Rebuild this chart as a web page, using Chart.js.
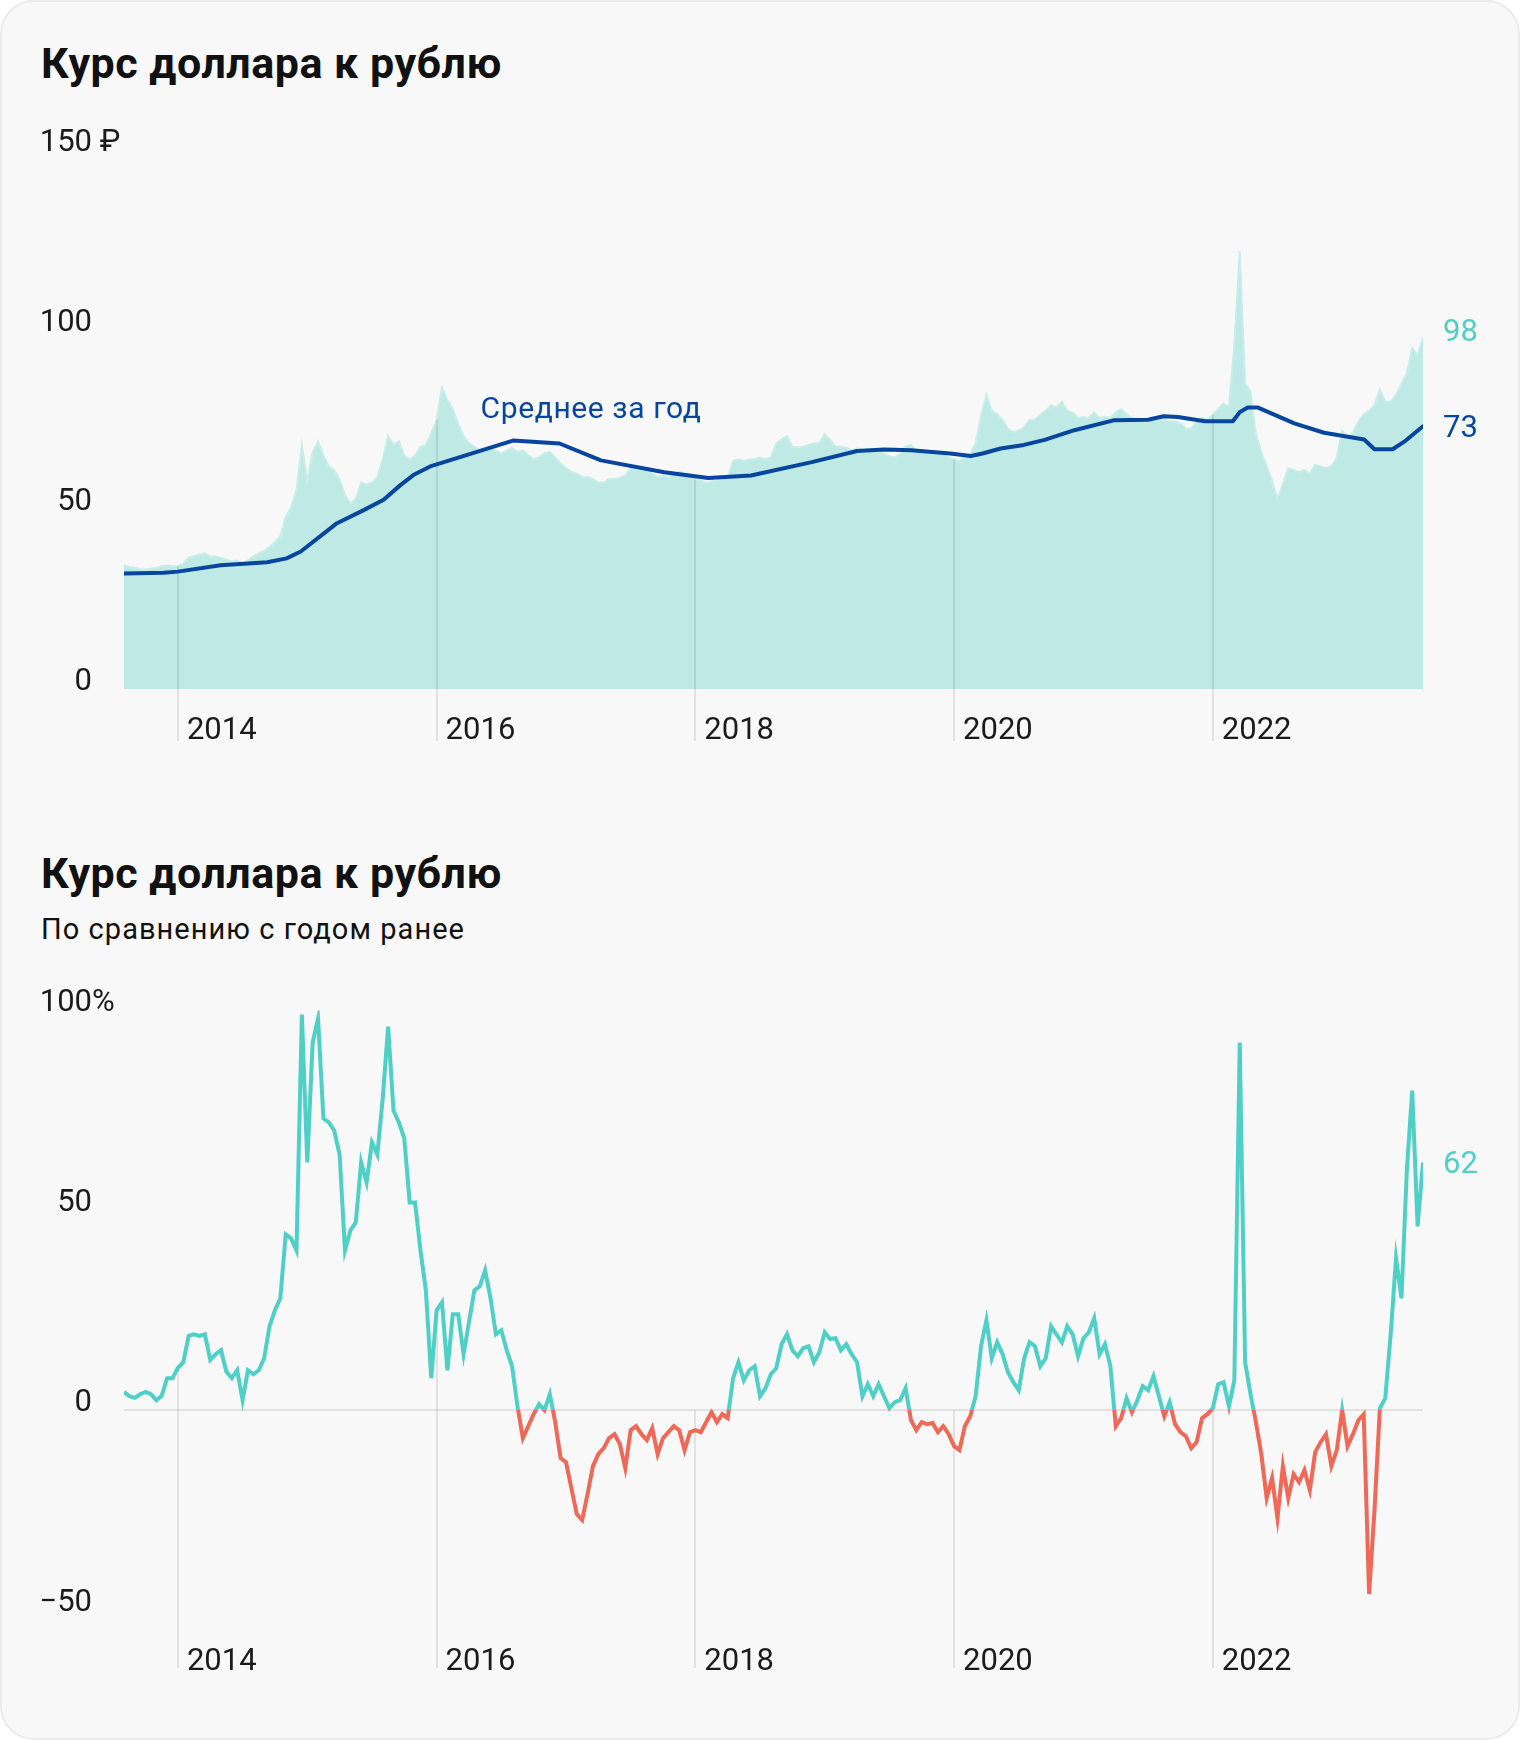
<!DOCTYPE html>
<html lang="ru">
<head>
<meta charset="utf-8">
<title>Курс доллара к рублю</title>
<script src="https://cdn.jsdelivr.net/npm/chart.js@4.4.1/dist/chart.umd.min.js"></script>
<style>
  html, body { margin: 0; padding: 0; background: #ffffff; }
  body { width: 1520px; height: 1740px; position: relative; font-family: Roboto, "Noto Sans", sans-serif; color: #111; }
  .card { position: absolute; left: 0; top: 0; width: 1520px; height: 1740px; box-sizing: border-box;
          border: 2px solid #ebebeb; border-radius: 34px; background: #f8f8f8; }
  .title { position: absolute; left: 41px; margin: 0; font-size: 43px; line-height: 43px; font-weight: 700;
           letter-spacing: 0.5px; white-space: nowrap; }
  .sub { position: absolute; left: 41px; margin: 0; font-size: 29px; line-height: 29px; font-weight: 400;
         letter-spacing: 1.05px; white-space: nowrap; }
  canvas { position: absolute; left: 0; }
</style>
</head>
<body>
<div class="card"></div>
<h2 class="title" style="top:42px">Курс доллара к рублю</h2>
<canvas id="rateChart" width="1520" height="680" style="top:100px"></canvas>
<h2 class="title" style="top:852px">Курс доллара к рублю</h2>
<p class="sub" style="top:915px">По сравнению с годом ранее</p>
<canvas id="yoyChart" width="1520" height="740" style="top:960px"></canvas>

<script>
// точки раз в полмесяца: с 1 августа 2013 по 15 августа 2023
const firstPoint = 2013 + 7 / 12;
const step = 1 / 24;
const tickYears = [2014, 2016, 2018, 2020, 2022];

// курс доллара, ₽
const rateValues = [
  34.5, 34.0, 33.8, 33.4, 33.2, 33.5, 33.8, 34.2, 34.4, 34.2,                                   // 2013
  34.3, 35.0, 36.5, 37.0, 37.5, 37.8, 36.8, 37.0, 36.5, 36.0, 35.5, 35.8,
  35.0, 35.8, 37.0, 37.8, 38.5, 39.5, 41.0, 42.5, 48.0, 50.5, 55.5, 68.0,                       // 2014
  58, 66, 69, 65, 62, 61, 58.3, 54, 51.7, 53, 57.5, 57,
  57.5, 59, 64, 70.5, 68, 69, 65, 64, 65, 67.5, 68, 71.3,                                       // 2015
  75, 84, 80.5, 78, 74, 70.5, 68.5, 67.5, 66.5, 66.5, 67, 66.5,
  65.5, 66.5, 67.2, 66, 66.5, 65.2, 64, 64.5, 65.7, 66, 64.5, 62.9,                             // 2016
  61.5, 60.5, 60, 59, 59, 58.5, 57.5, 57.5, 58.5, 58.5, 58.8, 59.5,
  61.5, 61, 61.5, 61, 60, 59, 59.5, 59, 60, 60.5, 60, 60,                                       // 2017
  58.5, 58, 57.5, 57.8, 58, 58.5, 59, 63.5, 64, 63.5, 64, 64,
  64.5, 64, 64.5, 68.5, 69.5, 70.5, 67.5, 67.3, 67.5, 68, 68.5, 68.5,                           // 2018
  71, 69.5, 67.5, 67.5, 67.3, 66.5, 67, 66.5, 66.5, 66.5, 66.5, 65.5,
  64.8, 64.5, 65.5, 67.5, 68, 66.5, 66.5, 65.8, 65.5, 65.8, 65.5, 64.5,                         // 2019
  64, 63.5, 65, 65.5, 68.5, 76, 82, 77.5, 76.5, 75, 72.5, 71.5,
  72, 73, 75, 75, 76.5, 77.5, 79, 78.5, 80, 77.5, 77, 75.5,                                     // 2020
  75.8, 75.5, 77, 75.5, 75.8, 75.5, 77, 78, 76.5, 75.5, 75, 74.5,
  74.5, 75.5, 75, 75.3, 74.5, 74.6, 74, 72.5, 72.5, 74.5, 75.5, 75,                             // 2021
  76.5, 78, 79.5, 78.5, 96, 122, 85, 83, 71, 66, 62, 58,
  53, 57, 61.5, 61, 60.5, 61, 60, 62.5, 62, 61.5, 62, 64.5,                                     // 2022
  72, 70, 71.5, 74.5, 76.5, 77.5, 79, 83.5, 80, 80, 82, 85, 88, 95, 93, 98                      // 2023
];

// среднее за год, ₽
const avgYears = [
  2013.583, 2013.89, 2014.0, 2014.33, 2014.69, 2014.84, 2014.95, 2015.23, 2015.44, 2015.59,
  2015.72, 2015.82, 2015.95, 2016.28, 2016.59, 2016.95, 2017.27, 2017.76, 2018.10, 2018.43,
  2018.90, 2019.25, 2019.46, 2019.67, 2019.97, 2020.13, 2020.22, 2020.36, 2020.54, 2020.70,
  2020.93, 2021.24, 2021.50, 2021.62, 2021.73, 2021.94, 2022.155, 2022.21, 2022.27, 2022.35,
  2022.63, 2022.86, 2023.17, 2023.25, 2023.39, 2023.48, 2023.625
];
const avgValues = [
  32.2, 32.4, 32.7, 34.5, 35.3, 36.4, 38.3, 46.2, 49.9, 52.7,
  56.8, 59.6, 62.0, 65.7, 69.2, 68.4, 63.7, 60.4, 58.8, 59.5,
  63.2, 66.3, 66.7, 66.5, 65.6, 64.9, 65.6, 67.0, 68.0, 69.4,
  72.1, 74.9, 75.0, 76.0, 75.8, 74.6, 74.6, 77.2, 78.4, 78.4,
  74.0, 71.4, 69.5, 66.8, 66.8, 68.9, 73.2
];

// изменение к тому же дню год назад, %
const yoyValues = [
  4.6, 3.5, 3.1, 4, 4.6, 4, 2.5, 3.6, 8, 8,                                                     // 2013
  10.6, 12, 18.6, 19, 18.6, 19, 12.6, 14, 15, 9.6, 8, 10,
  2.5, 10, 9, 10, 13, 21, 25, 28, 44, 43, 40, 99,                                               // 2014
  62, 92, 98, 73, 72, 70, 64, 40, 45, 47, 62, 57,
  67, 64, 78, 96, 75, 72, 68, 52, 52, 40, 30, 8,                                                // 2015
  25, 27, 10, 24, 24, 14, 22, 30, 31, 35, 28, 19,
  20, 15, 11, 1, -7, -4, -1, 1.5, 0, 4, -3, -12,                                                // 2016
  -13, -19.5, -26, -27.5, -21, -14, -11, -9.5, -7, -6, -8.5, -14.5,
  -5, -4, -6, -7.5, -4.5, -11, -7, -5.5, -4, -5, -10, -5.5,                                     // 2017
  -5, -5.5, -3, -0.5, -3, -1, -2, 8, 12, 7.5, 10, 11,
  3.5, 5.5, 9, 10.5, 16.5, 19, 15, 13.5, 15.5, 16, 12, 14.5,                                    // 2018
  19.5, 17.8, 18, 15, 16.5, 14, 12, 3.5, 6.5, 3.5, 6.5, 3.5,
  0.5, 2, 2.5, 5.5, -2.5, -5, -3, -3.5, -3.2, -5.5, -4, -6,                                     // 2019
  -9, -10, -4, -1.5, 3.5, 16, 22.5, 13, 17, 14, 9.5, 7,
  5, 13, 17, 16, 11, 13, 21, 19, 17, 21, 19, 13.5,                                              // 2020
  18, 19.5, 23, 14, 16.5, 11, -4, -2, 3, -0.5, 2.5, 6,
  5, 8.5, 3.5, -1.5, 2, -3.5, -5.5, -6.5, -9.5, -8, -2, -1,                                     // 2021
  0.5, 6.5, 7, 1, 7.5, 92, 12, 4, -3, -11, -22, -17,
  -27, -14, -22, -16, -18, -15, -20, -10.5, -8, -6, -14, -10,                                   // 2022
  0, -9, -6, -2.5, -1, -46, -25, 0.5, 3, 19, 38, 28, 60, 80, 46, 62                             // 2023
];

const lastPoint = firstPoint + (rateValues.length - 1) * step;

const teal = '#4fd0c6';
const red = '#f06856';
const blue = '#07469c';
const areaColor = '#bee9e5';
const ink = '#1b1b1b';
const gridColor = 'rgba(0,0,0,0.085)';
const tickFont = { family: 'Roboto', size: 31 };

const toPoints = vals => vals.map((v, i) => ({ x: firstPoint + i * step, y: v }));

function valueAt(points, x) {
  for (let i = 1; i < points.length; i++) {
    if (points[i].x >= x) {
      const a = points[i - 1], b = points[i];
      return a.y + (b.y - a.y) * (x - a.x) / (b.x - a.x);
    }
  }
  return points[points.length - 1].y;
}

// вертикальные линии лет: от данных (или от нуля) вниз до подписей
function drawYearLines(chart, o) {
  const { ctx, chartArea } = chart;
  const { x, y } = chart.scales;
  const pts = chart.data.datasets[0].data;
  ctx.save();
  ctx.strokeStyle = gridColor;
  ctx.lineWidth = 2;
  x.ticks.forEach(t => {
    const px = Math.round(x.getPixelForValue(t.value));
    const top = Math.min(y.getPixelForValue(valueAt(pts, t.value)), y.getPixelForValue(0));
    ctx.beginPath();
    ctx.moveTo(px, top);
    ctx.lineTo(px, chartArea.bottom + o.below);
    ctx.stroke();
  });
  ctx.restore();
}

const yearLines = {
  id: 'yearLines',
  afterDatasetDraw(chart, args, o) { if (!o.under && args.index === 0) drawYearLines(chart, o); },
  beforeDatasetsDraw(chart, args, o) { if (o.under) drawYearLines(chart, o); }
};

const endLabels = {
  id: 'endLabels',
  afterDatasetsDraw(chart, args, o) {
    const { ctx, chartArea } = chart;
    const { x, y } = chart.scales;
    ctx.save();
    ctx.font = '31px Roboto';
    ctx.textAlign = 'left';
    ctx.textBaseline = 'middle';
    o.items.forEach(it => {
      const data = chart.data.datasets[it.dataset].data;
      const last = data[data.length - 1].y;
      ctx.fillStyle = it.color;
      ctx.fillText(String(Math.round(last)), chartArea.right + 20, y.getPixelForValue(last) + it.dy);
    });
    if (o.note) {
      ctx.font = '30px Roboto';
      ctx.letterSpacing = '0.6px';
      ctx.fillStyle = o.note.color;
      ctx.textBaseline = 'alphabetic';
      ctx.fillText(o.note.text, x.getPixelForValue(o.note.x), y.getPixelForValue(o.note.y));
    }
    ctx.restore();
  }
};

// единица измерения после верхней подписи оси
const unitSuffix = {
  id: 'unitSuffix',
  afterDraw(chart, args, o) {
    const y = chart.scales.y;
    const { ctx } = chart;
    ctx.save();
    ctx.font = tickFont.size + 'px ' + tickFont.family;
    ctx.fillStyle = ink;
    ctx.textAlign = 'left';
    ctx.textBaseline = 'middle';
    ctx.fillText(o.text, y.right - y.options.ticks.padding, y.getPixelForValue(y.max) + y.options.ticks.labelOffset);
    ctx.restore();
  }
};

function xScale(height, padding) {
  return {
    type: 'linear',
    min: firstPoint,
    max: lastPoint,
    afterBuildTicks: s => { s.ticks = tickYears.map(v => ({ value: v })); },
    afterFit: s => { s.height = height; },
    grid: { display: false, drawTicks: false },
    border: { display: false },
    ticks: {
      align: 'start', labelOffset: 9, padding: padding, maxRotation: 0, autoSkip: false,
      color: ink, font: tickFont, callback: v => String(v)
    }
  };
}

function yTicks() {
  return {
    stepSize: 50, crossAlign: 'near', padding: 32, labelOffset: -7,
    color: ink, font: tickFont,
    callback: v => v < 0 ? '−' + Math.abs(v) : String(v)
  };
}

new Chart(document.getElementById('rateChart'), {
  type: 'line',
  data: {
    datasets: [
      {
        label: 'Курс доллара',
        data: toPoints(rateValues),
        fill: 'origin',
        backgroundColor: areaColor,
        borderColor: '#c8eeea',
        borderWidth: 2,
        pointRadius: 0,
        order: 2
      },
      {
        label: 'Среднее за год',
        data: avgYears.map((x, i) => ({ x: x, y: avgValues[i] })),
        fill: false,
        borderColor: blue,
        borderWidth: 4,
        borderJoinStyle: 'round',
        borderCapStyle: 'round',
        pointRadius: 0,
        order: 1
      }
    ]
  },
  options: {
    responsive: false,
    animation: false,
    events: [],
    layout: { padding: { top: 50, right: 97, bottom: 0, left: 0 } },
    scales: {
      x: xScale(91, 24),
      y: {
        min: 0, max: 150,
        afterFit: s => { s.width = 124; },
        grid: { display: false, drawTicks: false },
        border: { display: false },
        ticks: yTicks()
      }
    },
    plugins: {
      legend: { display: false },
      tooltip: { enabled: false },
      yearLines: { under: false, below: 52 },
      endLabels: {
        items: [{ dataset: 0, color: teal, dy: -4 }, { dataset: 1, color: blue, dy: 3 }],
        note: { text: 'Среднее за год', x: 2016.34, y: 75.5, color: blue }
      },
      unitSuffix: { text: ' ₽' }
    }
  },
  plugins: [yearLines, endLabels, unitSuffix]
});

function splitColor(context) {
  const chart = context.chart;
  const area = chart.chartArea;
  if (!area) return teal;
  const y0 = chart.scales.y.getPixelForValue(0);
  const g = chart.ctx.createLinearGradient(0, area.top, 0, area.bottom);
  const s = Math.min(Math.max((y0 - area.top) / (area.bottom - area.top), 0), 1);
  g.addColorStop(0, teal);
  g.addColorStop(s, teal);
  g.addColorStop(s, red);
  g.addColorStop(1, red);
  return g;
}

new Chart(document.getElementById('yoyChart'), {
  type: 'line',
  data: {
    datasets: [{
      label: 'По сравнению с годом ранее',
      data: toPoints(yoyValues),
      fill: false,
      borderColor: splitColor,
      borderWidth: 4,
      pointRadius: 0
    }]
  },
  options: {
    responsive: false,
    animation: false,
    events: [],
    layout: { padding: { top: 50, right: 97, bottom: 0, left: 0 } },
    scales: {
      x: xScale(90, 34),
      y: {
        min: -50, max: 100,
        afterFit: s => { s.width = 124; },
        grid: {
          drawTicks: false,
          lineWidth: 2,
          color: c => (c.tick && c.tick.value === 0) ? gridColor : 'rgba(0,0,0,0)'
        },
        border: { display: false },
        ticks: yTicks()
      }
    },
    plugins: {
      legend: { display: false },
      tooltip: { enabled: false },
      yearLines: { under: true, below: 58 },
      endLabels: { items: [{ dataset: 0, color: teal, dy: 3 }] },
      unitSuffix: { text: '%' }
    }
  },
  plugins: [yearLines, endLabels, unitSuffix]
});
</script>
</body>
</html>
